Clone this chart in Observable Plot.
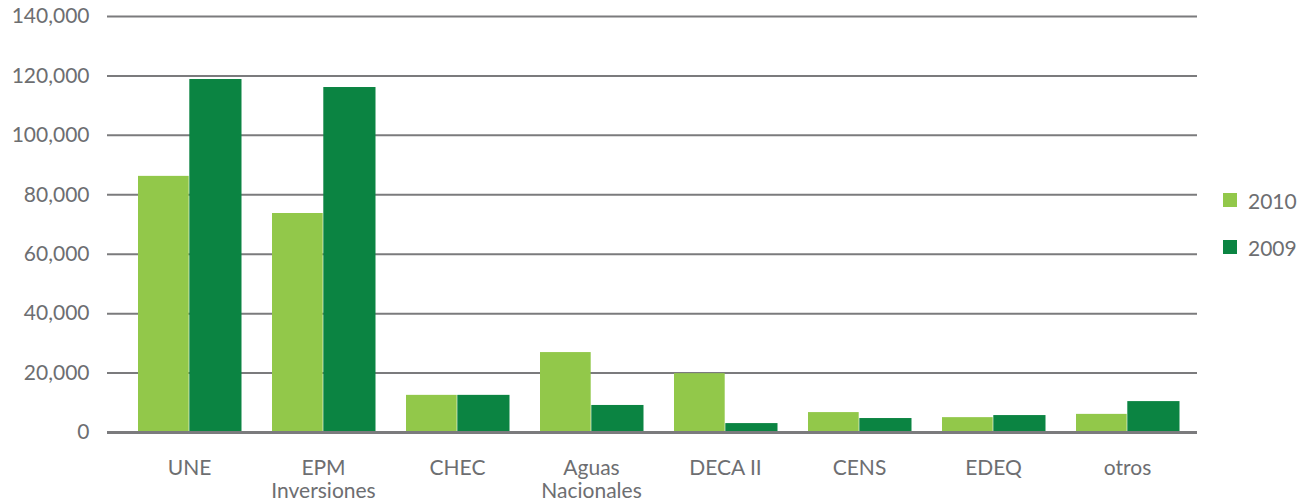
<!DOCTYPE html>
<html>
<head>
<meta charset="utf-8">
<script src="https://cdn.jsdelivr.net/npm/d3@7"></script>
<script src="https://cdn.jsdelivr.net/npm/@observablehq/plot@0.6"></script>
<style>
  html, body { margin: 0; padding: 0; background: #fff; }
  #wrap { position: relative; width: 1307px; height: 504px; font-family: Lato, "Noto Sans", sans-serif; }
  .leg { position: absolute; display: flex; align-items: center; font-size: 21px; color: #6d6e71; }
  .leg span.sw { display: inline-block; width: 14px; height: 14px; margin-right: 11px; }
</style>
</head>
<body>
<div id="wrap"></div>
<script>
const companies = ["UNE", "EPM Inversiones", "CHEC", "Aguas Nacionales", "DECA II", "CENS", "EDEQ", "otros"];
const companyLabels = ["UNE", "EPM\nInversiones", "CHEC", "Aguas\nNacionales", "DECA II", "CENS", "EDEQ", "otros"];
const years = ["2010", "2009"];
const colors = ["#92c84a", "#0b8442"];
const v2010 = [86200, 73700, 12500, 26900, 19800, 6700, 5000, 6100];
const v2009 = [118800, 116100, 12500, 9100, 3000, 4700, 5700, 10400];
const yTicks = [0, 20000, 40000, 60000, 80000, 100000, 120000, 140000];

const rows2010 = companies.map((c, i) => ({company: c, year: "2010", value: v2010[i]}));
const rows2009 = companies.map((c, i) => ({company: c, year: "2009", value: v2009[i]}));
const labelOf = new Map(companies.map((c, i) => [c, companyLabels[i]]));

const chart = Plot.plot({
  width: 1307,
  height: 504,
  marginLeft: 107,
  marginRight: 110,
  marginTop: 16,
  marginBottom: 72,
  style: {fontFamily: "Lato, 'Noto Sans', sans-serif", fontSize: "21px", color: "#6d6e71", background: "#fff", overflow: "visible"},
  x: {domain: companies, range: [119, 1197.5], padding: 0, label: null},
  y: {domain: [0, 140000], label: null},
  color: {domain: years, range: colors},
  marks: [
    Plot.ruleY(yTicks.slice(1), {stroke: "#7b7b7d", strokeWidth: 2}),
    Plot.barY(rows2010, {x: "company", y: "value", fill: "year", insetLeft: 16, insetRight: 67.3}),
    Plot.barY(rows2009, {x: "company", y: "value", fill: "year", insetLeft: 67.3, insetRight: 14.5}),
    Plot.ruleY([0], {stroke: "#7b7b7d", strokeWidth: 3}),
    Plot.axisY({ticks: yTicks, tickSize: 0, tickPadding: 18, tickFormat: d3.format(","), fontSize: 21, fill: "#6d6e71", label: null}),
    Plot.axisX({tickSize: 0, tickPadding: 26, tickFormat: d => labelOf.get(d), fontSize: 21, fill: "#6d6e71", lineHeight: 1.1, label: null})
  ]
});
const wrap = document.getElementById("wrap");
wrap.appendChild(chart);

const legendPos = [{top: 193}, {top: 240}];
years.forEach((y, i) => {
  const d = document.createElement("div");
  d.className = "leg";
  d.style.left = "1223px";
  d.style.top = (legendPos[i].top - 5) + "px";
  d.style.height = "24px";
  d.innerHTML = `<span class="sw" style="background:${colors[i]}"></span><span>${y}</span>`;
  wrap.appendChild(d);
});
</script>
</body>
</html>
